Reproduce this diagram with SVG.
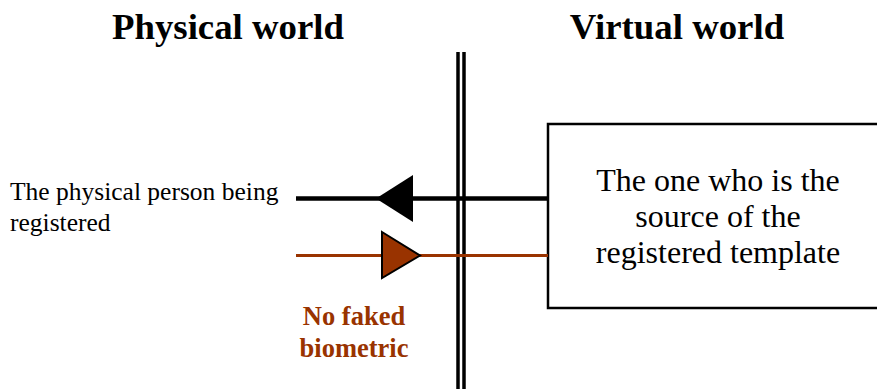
<svg xmlns="http://www.w3.org/2000/svg" width="877" height="389" viewBox="0 0 877 389">
  <style>
    .title { font-family: "Liberation Serif", "Times New Roman", serif; font-weight: bold; font-size: 36.8px; fill: #000; text-anchor: middle; }
    .label { font-family: "Liberation Serif", "Times New Roman", serif; font-size: 25.5px; fill: #000; }
    .boxtext { font-family: "Liberation Serif", "Times New Roman", serif; font-size: 32px; fill: #000; text-anchor: middle; }
    .note { font-family: "Liberation Serif", "Times New Roman", serif; font-weight: bold; font-size: 26.5px; fill: #993300; text-anchor: middle; }
    .divider { stroke: #000; stroke-width: 3.5; }
  </style>
  <rect width="877" height="389" fill="#fff"/>

  <!-- headings -->
  <text class="title" x="228" y="39">Physical world</text>
  <text class="title" x="677" y="39">Virtual world</text>

  <!-- boundary between the two worlds -->
  <g id="boundary">
    <line class="divider" x1="458" y1="52" x2="458" y2="389"/>
    <line class="divider" x1="464" y1="52" x2="464" y2="389"/>
  </g>

  <!-- physical person -->
  <g id="person">
    <text class="label" x="10" y="200">The physical person being</text>
    <text class="label" x="10" y="231">registered</text>
  </g>

  <!-- template source -->
  <g id="source">
    <rect x="548" y="124" width="340" height="184" fill="#fff" stroke="#000" stroke-width="2.5"/>
    <text class="boxtext" x="718" y="191">The one who is the</text>
    <text class="boxtext" x="718" y="227">source of the</text>
    <text class="boxtext" x="718" y="263">registered template</text>
  </g>

  <!-- annotation -->
  <g id="note">
    <text class="note" x="354" y="325">No faked</text>
    <text class="note" x="354" y="357">biometric</text>
  </g>

  <!-- connectors -->
  <g id="connectors">
    <line x1="296" y1="198.5" x2="548" y2="198.5" stroke="#000" stroke-width="4.5"/>
    <polygon points="376,198.5 413,175 413,222" fill="#000"/>
    <line x1="296" y1="255.5" x2="548" y2="255.5" stroke="#993300" stroke-width="3"/>
    <polygon points="382,232 420,255.5 382,278" fill="#993300" stroke="#000" stroke-width="2"/>
  </g>
</svg>
